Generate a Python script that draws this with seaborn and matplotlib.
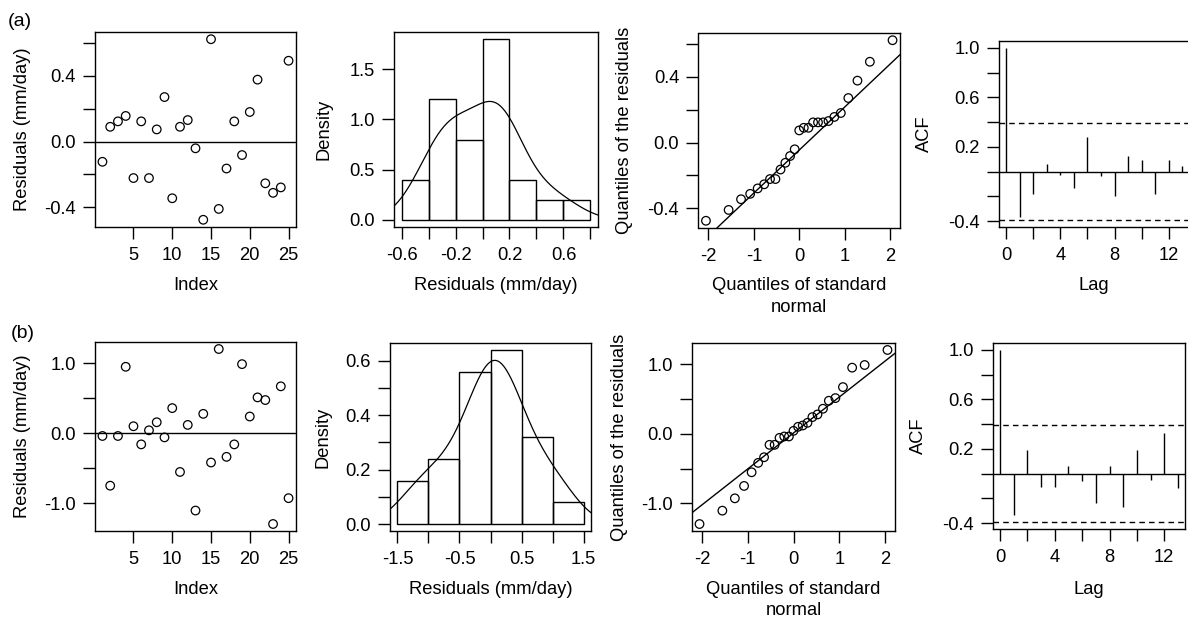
import numpy as np
import matplotlib
matplotlib.use("Agg")
import matplotlib.pyplot as plt
import seaborn as sns
from statistics import NormalDist

resid_a = [-0.123, 0.090, 0.123, 0.156, -0.222, 0.123, -0.222, 0.074, 0.271, -0.345,
           0.090, 0.131, -0.041, -0.476, 0.623, -0.410, -0.164, 0.123, -0.082, 0.180,
           0.377, -0.254, -0.312, -0.279, 0.492]
resid_b = [-0.038, -0.748, -0.038, 0.950, 0.101, -0.158, 0.043, 0.158, -0.058, 0.360,
           -0.552, 0.120, -1.103, 0.278, -0.417, 1.204, -0.336, -0.158, 0.988, 0.240,
           0.513, 0.475, -1.295, 0.671, -0.926]

# autocorrelations, lags 0..13
acf_a = [1.0, -0.369, -0.183, 0.059, -0.027, -0.129, 0.280, -0.039, -0.195,
         0.125, 0.092, -0.177, 0.092, 0.047]
acf_b = [1.0, -0.338, 0.192, -0.105, -0.105, 0.062, -0.059, -0.235, 0.062,
         -0.270, 0.192, -0.051, 0.327, -0.114]

breaks_a = [-0.6, -0.4, -0.2, 0.0, 0.2, 0.4, 0.6, 0.8]
breaks_b = [-1.5, -1.0, -0.5, 0.0, 0.5, 1.0, 1.5]

# tick positions / labels (R drops every other label)
res_ticks_a = [-0.4, -0.2, 0.0, 0.2, 0.4, 0.6]
res_labels_a = ["-0.4", "", "0.0", "", "0.4", ""]
res_ticks_b = [-1.0, -0.5, 0.0, 0.5, 1.0]
res_labels_b = ["-1.0", "", "0.0", "", "1.0"]
hist_xlabels_a = ["-0.6", "", "-0.2", "", "0.2", "", "0.6", ""]
hist_xlabels_b = ["-1.5", "", "-0.5", "", "0.5", "", "1.5"]
dens_ticks_a = [0.0, 0.5, 1.0, 1.5]
dens_labels_a = ["0.0", "0.5", "1.0", "1.5"]
dens_ticks_b = [0.0, 0.1, 0.2, 0.3, 0.4, 0.5, 0.6]
dens_labels_b = ["0.0", "", "0.2", "", "0.4", "", "0.6"]
index_ticks = [5, 10, 15, 20, 25]
qq_ticks = [-2, -1, 0, 1, 2]
lag_ticks = [0, 2, 4, 6, 8, 10, 12]
lag_labels = ["0", "", "4", "", "8", "", "12"]
acf_ticks = [-0.4, -0.2, 0.0, 0.2, 0.4, 0.6, 0.8, 1.0]
acf_labels = ["-0.4", "", "", "0.2", "", "0.6", "", "1.0"]

sns.set_theme(style="ticks")
plt.rcParams["font.family"] = ["Liberation Sans", "DejaVu Sans"]
plt.rcParams.update({
    "font.size": 13.2, "axes.labelsize": 13.2,
    "xtick.labelsize": 13.2, "ytick.labelsize": 13.2,
    "axes.edgecolor": "black", "axes.linewidth": 1.0,
    "xtick.color": "black", "ytick.color": "black",
    "text.color": "black", "axes.labelcolor": "black",
    "xtick.major.size": 8.4, "ytick.major.size": 8.4,
    "xtick.major.width": 1.0, "ytick.major.width": 1.0,
    "xtick.major.pad": 6.0, "ytick.major.pad": 5.5,
    "axes.unicode_minus": False,
})

W, H = 1188, 621
fig = plt.figure(figsize=(W / 100, H / 100), dpi=100)


def r_range(lo, hi):
    pad = 0.04 * (hi - lo)
    return lo - pad, hi + pad


def make_ax(box):
    l, t, r, b = box
    ax = fig.add_axes([l / W, 1 - b / H, (r - l) / W, (b - t) / H])
    return ax, r - l, b - t


def labels(ax, w, h, xl, yl, xd, yd):
    ax.set_xlabel(xl, linespacing=1.35)
    ax.set_ylabel(yl)
    ax.xaxis.set_label_coords(0.5, -xd / h)
    ax.yaxis.set_label_coords(-yd / w, 0.5)
    ax.xaxis.label.set_va("center")
    ax.yaxis.label.set_va("center")


def index_panel(box, res, yt, ylab, xd, yd):
    ax, w, h = make_ax(box)
    idx = np.arange(1, len(res) + 1)
    sns.scatterplot(x=idx, y=res, ax=ax, marker="o", s=38, facecolor="none",
                    edgecolor="black", linewidth=0.9)
    ax.axhline(0, color="black", lw=1.0)
    ax.set_xlim(r_range(1, len(res)))
    ax.set_ylim(r_range(min(res), max(res)))
    ax.set_xticks(index_ticks, [str(t) for t in index_ticks])
    ax.set_yticks(yt, ylab)
    labels(ax, w, h, "Index", "Residuals (mm/day)", xd, yd)


def hist_panel(box, res, breaks, xlab, yt, ylab, xd, yd, adjust):
    ax, w, h = make_ax(box)
    x = np.array(res)
    sns.histplot(x=x, bins=breaks, stat="density", fill=False, color="black",
                 linewidth=1.0, ax=ax)
    # bandwidth based on R's bw.nrd0, widened to match the smoother curve
    sd = x.std(ddof=1)
    q1, q3 = np.percentile(x, [25, 75])
    bw = 0.9 * min(sd, (q3 - q1) / 1.34) * len(x) ** -0.2
    sns.kdeplot(x=x, bw_method=bw / sd, bw_adjust=adjust, cut=3, gridsize=512,
                color="black", linewidth=0.9, ax=ax)
    counts, _ = np.histogram(x, bins=breaks)
    dens = counts / (len(x) * np.diff(breaks))
    ax.set_xlim(r_range(breaks[0], breaks[-1]))
    ax.set_ylim(r_range(0, dens.max()))
    ax.set_xticks(breaks, xlab)
    ax.set_yticks(yt, ylab)
    labels(ax, w, h, "Residuals (mm/day)", "Density", xd, yd)


def qq_panel(box, res, yt, ylab, xd, yd):
    ax, w, h = make_ax(box)
    n = len(res)
    nd = NormalDist()
    theo = np.array([nd.inv_cdf((i - 0.5) / n) for i in range(1, n + 1)])
    samp = np.sort(res)
    sns.scatterplot(x=theo, y=samp, ax=ax, marker="o", s=38, facecolor="none",
                    edgecolor="black", linewidth=0.9)
    q1, q3 = np.percentile(samp, [25, 75])
    z1, z3 = nd.inv_cdf(0.25), nd.inv_cdf(0.75)
    ax.axline((z1, q1), slope=(q3 - q1) / (z3 - z1), color="black", lw=1.0)
    ax.set_xlim(r_range(theo.min(), theo.max()))
    ax.set_ylim(r_range(samp.min(), samp.max()))
    ax.set_xticks(qq_ticks, [str(t) for t in qq_ticks])
    ax.set_yticks(yt, ylab)
    labels(ax, w, h, "Quantiles of standard\nnormal", "Quantiles of the residuals", xd, yd)


def acf_panel(box, acf, n, xd, yd):
    ax, w, h = make_ax(box)
    lags = np.arange(len(acf))
    clim = 1.96 / np.sqrt(n)
    ax.vlines(lags, 0, acf, color="black", lw=1.0)
    ax.axhline(0, color="black", lw=1.0)
    for c in (clim, -clim):
        ax.axhline(c, color="black", lw=1.0, ls=(0, (4, 3)))
    ax.set_xlim(r_range(0, lags[-1]))
    ax.set_ylim(r_range(min(min(acf), -clim), max(max(acf), clim)))
    ax.set_xticks(lag_ticks, lag_labels)
    ax.set_yticks(acf_ticks, acf_labels)
    labels(ax, w, h, "Lag", "ACF", xd, yd)


# row (a)
index_panel((95, 32, 296, 227), resid_a, res_ticks_a, res_labels_a, 58, 72)
hist_panel((394, 32, 598, 227), resid_a, breaks_a, hist_xlabels_a,
           dens_ticks_a, dens_labels_a, 58, 70, 1.35)
qq_panel((698.5, 33, 900, 228), resid_a, res_ticks_a, res_labels_a, 68.5, 73.5)
acf_panel((999, 41, 1189.5, 227), acf_a, len(resid_a), 58, 75)

# row (b)
index_panel((95, 342, 296, 531), resid_b, res_ticks_b, res_labels_b, 59, 72)
hist_panel((390, 343, 591, 531), resid_b, breaks_b, hist_xlabels_b,
           dens_ticks_b, dens_labels_b, 58, 67, 1.45)
qq_panel((692, 343, 895, 531), resid_b, res_ticks_b, res_labels_b, 69, 73)
acf_panel((993, 343, 1185, 529), acf_b, len(resid_b), 61, 75)

fig.text(8 / W, 1 - 21 / H, "(a)", fontsize=14, ha="left", va="center")
fig.text(11 / W, 1 - 333 / H, "(b)", fontsize=14, ha="left", va="center")

fig.savefig("out.png", dpi=100)
